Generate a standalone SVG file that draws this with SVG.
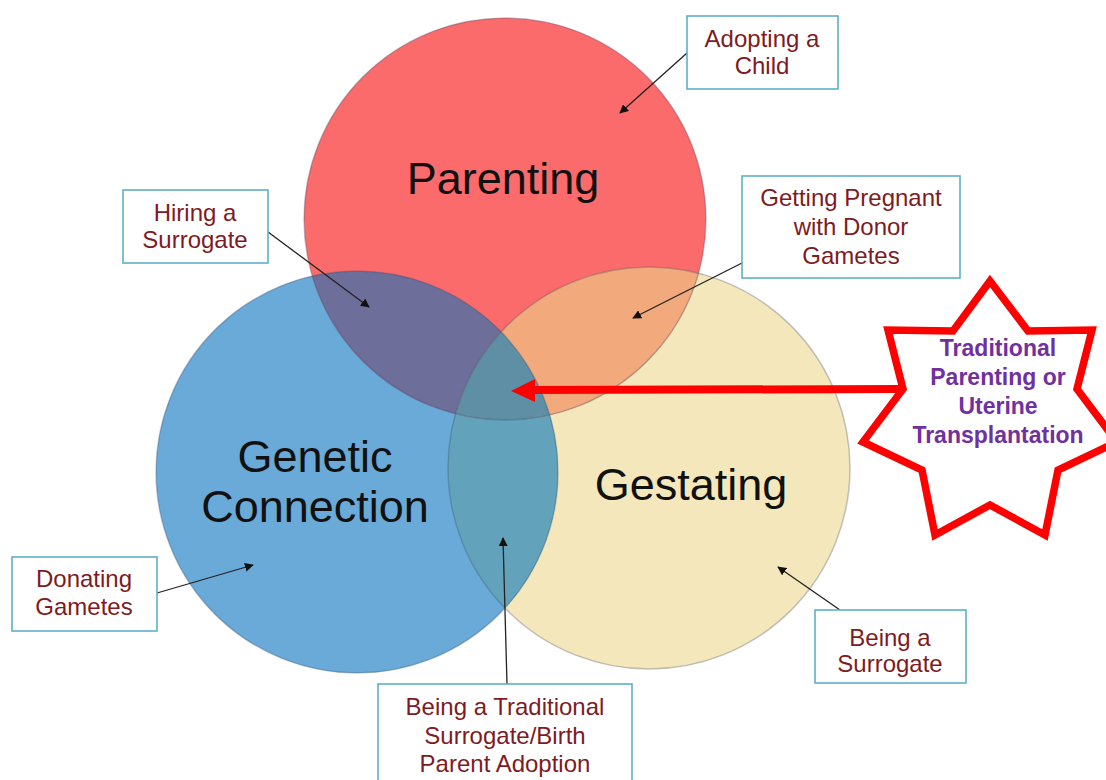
<svg xmlns="http://www.w3.org/2000/svg" width="1106" height="780" viewBox="0 0 1106 780">
<style>
.big{font-family:"Liberation Sans",Arial,sans-serif;font-size:45px;fill:#111;text-anchor:middle}
.box{fill:#fff;stroke:#5eb0c8;stroke-width:1.6}
.lbl{font-family:"Liberation Sans",Arial,sans-serif;font-size:24px;fill:#7e1b22;text-anchor:middle}
.star{font-family:"Liberation Sans",Arial,sans-serif;font-size:23px;font-weight:bold;fill:#7030a0;text-anchor:middle}
.conn{stroke:#222;stroke-width:1.3;fill:none;marker-end:url(#ah)}
.rim{fill:none;stroke:#3a4a66;stroke-opacity:0.3;stroke-width:1.5}
</style>
<defs>
<clipPath id="cP"><circle cx="505" cy="219" r="201"/></clipPath>
<clipPath id="cG"><circle cx="357" cy="472" r="201"/></clipPath>
<clipPath id="cS"><circle cx="649" cy="468" r="201"/></clipPath>
<marker id="ah" viewBox="0 0 10 10" refX="9" refY="5" markerWidth="9" markerHeight="9" markerUnits="userSpaceOnUse" orient="auto">
<path d="M0,0 L10,5 L0,10 Z" fill="#111"/>
</marker>
</defs>
<rect width="1106" height="780" fill="#fff"/>

<g id="gestating"><circle cx="649" cy="468" r="201" fill="#f4e7bb"/></g>
<g id="genetic"><circle cx="357" cy="472" r="201" fill="#6aaad8"/></g>
<g id="parenting"><circle cx="505" cy="219" r="201" fill="#fb6b6b"/></g>

<g id="overlaps">
<circle cx="357" cy="472" r="201" fill="#62a3bb" clip-path="url(#cS)"/>
<circle cx="357" cy="472" r="201" fill="#6e6e9a" clip-path="url(#cP)"/>
<circle cx="649" cy="468" r="201" fill="#f2a97b" clip-path="url(#cP)"/>
<g clip-path="url(#cS)"><circle cx="357" cy="472" r="201" fill="#5f8fa5" clip-path="url(#cP)"/></g>
</g>
<g id="rims">
<circle class="rim" cx="505" cy="219" r="201"/>
<circle class="rim" cx="357" cy="472" r="201"/>
<circle class="rim" cx="649" cy="468" r="201"/>
</g>

<g id="circle-labels">
<text class="big" x="503" y="194">Parenting</text>
<text class="big" x="315" y="472">Genetic</text>
<text class="big" x="315" y="522">Connection</text>
<text class="big" x="691" y="500">Gestating</text>
</g>

<g id="connectors">
<line class="conn" x1="687" y1="53" x2="620" y2="113"/>
<line class="conn" x1="268" y1="232" x2="369" y2="307"/>
<line class="conn" x1="742" y1="263" x2="633" y2="318"/>
<line class="conn" x1="157" y1="593" x2="253" y2="565"/>
<line class="conn" x1="507" y1="684" x2="503" y2="538"/>
<line class="conn" x1="840" y1="610" x2="778" y2="567"/>
<line x1="902" y1="389" x2="530" y2="390" stroke="#f00" stroke-width="8"/>
<path d="M511,391 L535,379 L535,402 Z" fill="#f00"/>
</g>

<g id="adopting">
<rect class="box" x="687" y="16" width="151" height="73"/>
<text class="lbl" x="762" y="47">Adopting a</text>
<text class="lbl" x="762" y="74">Child</text>
</g>
<g id="hiring">
<rect class="box" x="123" y="190" width="145" height="73"/>
<text class="lbl" x="195" y="221">Hiring a</text>
<text class="lbl" x="195" y="248">Surrogate</text>
</g>
<g id="pregnant">
<rect class="box" x="742" y="176" width="218" height="102"/>
<text class="lbl" x="851" y="206">Getting Pregnant</text>
<text class="lbl" x="851" y="235">with Donor</text>
<text class="lbl" x="851" y="264">Gametes</text>
</g>
<g id="donating">
<rect class="box" x="12" y="557" width="145" height="74"/>
<text class="lbl" x="84" y="587">Donating</text>
<text class="lbl" x="84" y="615">Gametes</text>
</g>
<g id="traditional-surrogate">
<rect class="box" x="378" y="684" width="254" height="110"/>
<text class="lbl" x="505" y="715">Being a Traditional</text>
<text class="lbl" x="505" y="744">Surrogate/Birth</text>
<text class="lbl" x="505" y="772">Parent Adoption</text>
</g>
<g id="surrogate">
<rect class="box" x="815" y="610" width="151" height="73"/>
<text class="lbl" x="890" y="646">Being a</text>
<text class="lbl" x="890" y="672">Surrogate</text>
</g>

<g id="star">
<path d="M990,281 L1028,331 L1092,330 L1077,389 L1117,442 L1058,470 L1045,535 L990,505 L935,535 L922,470 L863,442 L903,389 L888,330 L953,331 Z" fill="#fff" stroke="#f00" stroke-width="7.5" stroke-linejoin="miter"/>
<text class="star" x="998" y="356">Traditional</text>
<text class="star" x="998" y="385">Parenting or</text>
<text class="star" x="998" y="414">Uterine</text>
<text class="star" x="998" y="443">Transplantation</text>
</g>
</svg>
